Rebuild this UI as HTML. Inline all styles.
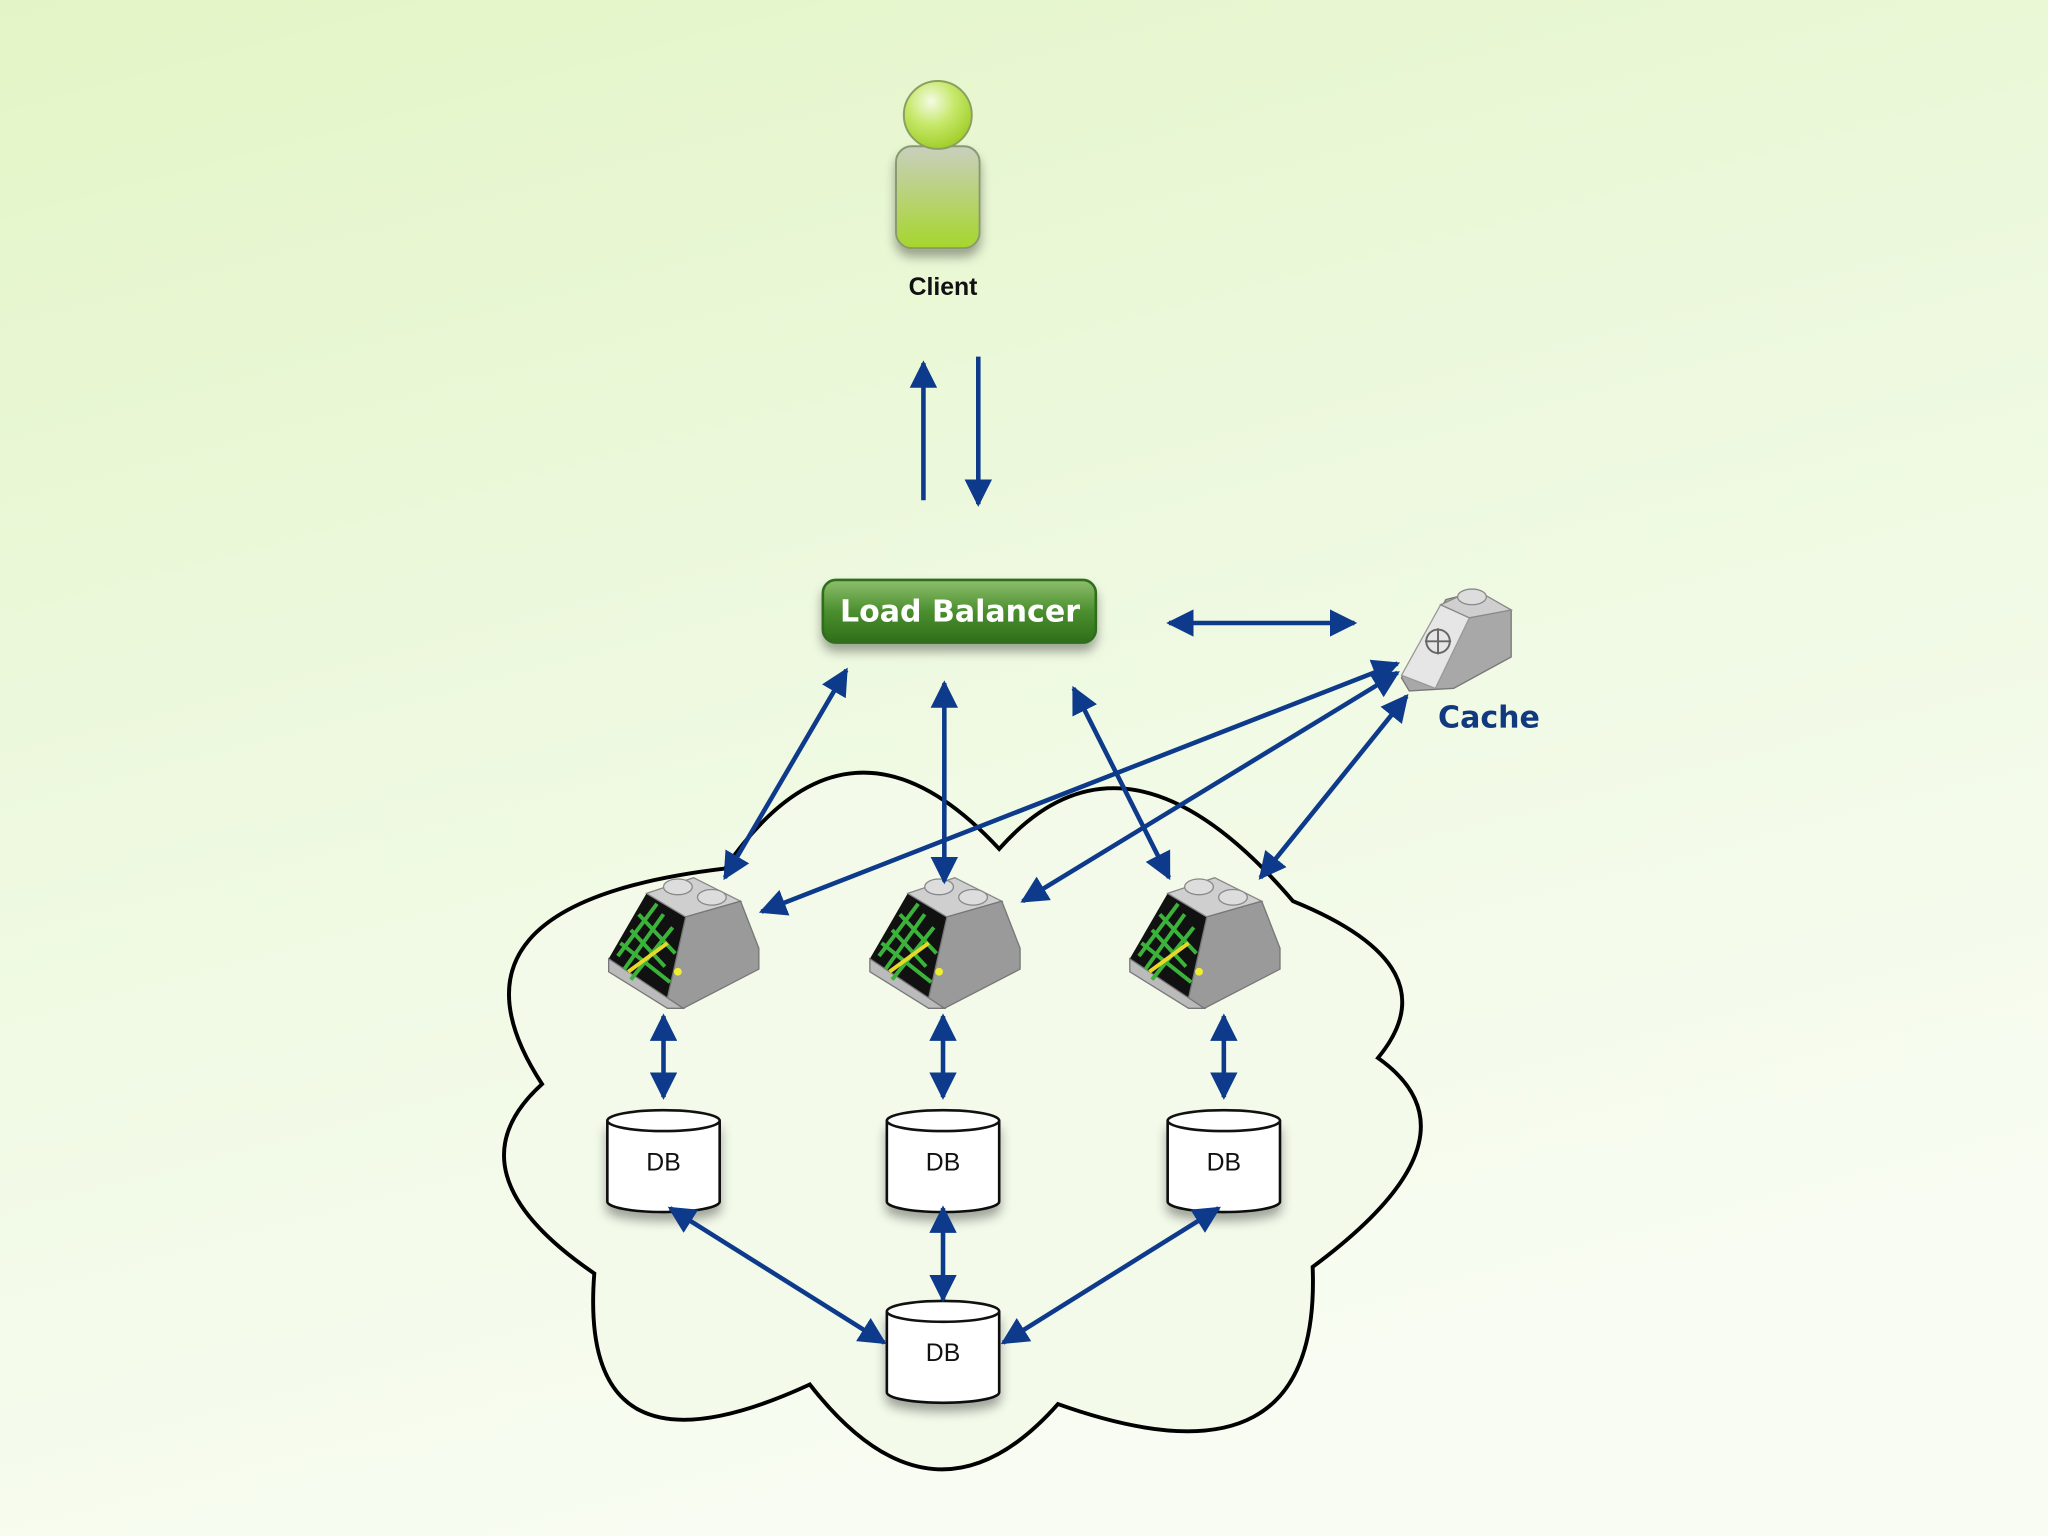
<!DOCTYPE html>
<html><head><meta charset="utf-8"><style>
html,body{margin:0;padding:0;width:2048px;height:1536px;overflow:hidden}
svg{display:block}
</style></head><body>
<svg width="2048" height="1536" viewBox="0 0 1568 1176" xmlns="http://www.w3.org/2000/svg">
<defs>
<linearGradient id="bg" x1="0" y1="0" x2="0.35" y2="1">
<stop offset="0" stop-color="#e3f5c6"/><stop offset="0.5" stop-color="#eef9e0"/><stop offset="1" stop-color="#f8fcf2"/>
</linearGradient>
<linearGradient id="body" x1="0" y1="0" x2="0" y2="1">
<stop offset="0" stop-color="#c9cfbe"/><stop offset="1" stop-color="#a6d62c"/>
</linearGradient>
<radialGradient id="head" cx="0.4" cy="0.3" r="0.7">
<stop offset="0" stop-color="#f4fbe4"/><stop offset="0.5" stop-color="#c6e86a"/><stop offset="1" stop-color="#a2cf2a"/>
</radialGradient>
<linearGradient id="lb" x1="0" y1="0" x2="0" y2="1">
<stop offset="0" stop-color="#8fbf6e"/><stop offset="0.5" stop-color="#4b8f2e"/><stop offset="1" stop-color="#2f6e1a"/>
</linearGradient>
<filter id="sh" x="-30%" y="-30%" width="160%" height="170%"><feDropShadow dx="0" dy="6" stdDeviation="4" flood-color="#000" flood-opacity="0.35"/></filter>
<marker id="ah" viewBox="0 0 10 10" refX="9" refY="5" markerWidth="6" markerHeight="6" orient="auto-start-reverse" markerUnits="strokeWidth">
<path d="M0,0 L10,5 L0,10 z" fill="#0d3a8a"/></marker>
<g id="srv">
<polygon points="-57,12 -28,-38 2,-20 -12,42" fill="#111"/>
<polygon points="-28,-38 8,-50 44,-32 2,-20" fill="#cfcfcf" stroke="#888" stroke-width="1"/>
<polygon points="2,-20 44,-32 58,4 58,20 0,50 -12,42" fill="#9a9a9a" stroke="#777" stroke-width="1"/>
<polygon points="-57,12 -57,22 -12,50 0,50 -12,42" fill="#bbb" stroke="#777" stroke-width="1"/>
<path d="M-50,10 L-20,-30 M-45,20 L-15,-22 M-40,28 L-8,-12 M-48,0 L-10,30 M-40,-10 L-14,18 M-34,-22 L-6,8" stroke="#3bb33b" stroke-width="3"/>
<path d="M-42,22 L-12,0" stroke="#e8d82a" stroke-width="3"/>
<circle cx="-4" cy="22" r="3" fill="#ee3"/>
<ellipse cx="-4" cy="-43" rx="11" ry="6" fill="#ddd" stroke="#888"/>
<ellipse cx="22" cy="-35" rx="11" ry="6" fill="#ddd" stroke="#888"/>
</g>
<g id="db">
<path d="M-43,-32 L-43,30 A43,8 0 0 0 43,30 L43,-32" fill="#fff" stroke="#111" stroke-width="2" filter="url(#sh)"/>
<ellipse cx="0" cy="-32" rx="43" ry="8" fill="#fff" stroke="#111" stroke-width="2"/>
</g>
</defs>
<rect width="1568" height="1176" fill="url(#bg)"/>

<!-- cloud -->
<path d="M555,665 Q650,526 765,650 Q862,540 990,690 Q1113,740 1055,810 Q1140,870 1005,970 Q1012,1147 810,1075 Q715,1182 620,1060 Q442,1142 455,975 Q341,897 415,830 Q325,692 555,665 Z" fill="#f3faea" stroke="#000" stroke-width="3"/>

<!-- client -->
<rect x="686" y="112" width="64" height="78" rx="12" fill="url(#body)" stroke="#8a9a70" stroke-width="1.5" filter="url(#sh)"/>
<circle cx="718" cy="88" r="26" fill="url(#head)" stroke="#8aa060" stroke-width="1.5"/>
<text x="722" y="226" font-family="Liberation Sans, sans-serif" font-size="19" font-weight="bold" text-anchor="middle" fill="#111">Client</text>

<!-- load balancer -->
<rect x="630" y="444" width="209" height="48" rx="10" fill="url(#lb)" stroke="#2f6e1a" stroke-width="2" filter="url(#sh)"/>
<text x="735" y="476" font-family="DejaVu Sans, sans-serif" font-size="23" font-weight="bold" text-anchor="middle" fill="#fff">Load Balancer</text>

<!-- cache -->
<g transform="translate(1115,487)">
<polygon points="-42,32 -8,-28 16,-34 42,-20 42,16 -2,40 -36,42" fill="#a8a8a8" stroke="#777"/>
<polygon points="-42,30 -12,-24 10,-14 -16,40" fill="#e6e6e6" stroke="#999"/>
<polygon points="-12,-24 14,-36 42,-20 10,-14" fill="#cfcfcf" stroke="#888"/>
<ellipse cx="12" cy="-30" rx="11" ry="6" fill="#ddd" stroke="#888"/>
<circle cx="-14" cy="4" r="9" fill="none" stroke="#666" stroke-width="1.5"/>
<path d="M-24,4 H-4 M-14,-6 V14" stroke="#666" stroke-width="1.5"/>
</g>
<text x="1140" y="557" font-family="DejaVu Sans, sans-serif" font-size="23" font-weight="bold" text-anchor="middle" fill="#10397f">Cache</text>

<!-- servers -->
<use href="#srv" x="523" y="722"/>
<use href="#srv" x="723" y="722"/>
<use href="#srv" x="922" y="722"/>

<!-- DBs -->
<g font-family="Liberation Sans, sans-serif" font-size="19" text-anchor="middle" fill="#111">
<use href="#db" x="508" y="890"/><text x="508" y="896">DB</text>
<use href="#db" x="722" y="890"/><text x="722" y="896">DB</text>
<use href="#db" x="937" y="890"/><text x="937" y="896">DB</text>
<use href="#db" x="722" y="1036"/><text x="722" y="1042">DB</text>
</g>

<!-- arrows -->
<g stroke="#0d3a8a" stroke-width="3.5" fill="none">
<line x1="707" y1="383" x2="707" y2="278" marker-end="url(#ah)"/>
<line x1="749" y1="273" x2="749" y2="386" marker-end="url(#ah)"/>
<line x1="895" y1="477" x2="1037" y2="477" marker-start="url(#ah)" marker-end="url(#ah)"/>
<line x1="648" y1="513" x2="555" y2="672" marker-start="url(#ah)" marker-end="url(#ah)"/>
<line x1="723" y1="523" x2="723" y2="675" marker-start="url(#ah)" marker-end="url(#ah)"/>
<line x1="822" y1="527" x2="895" y2="672" marker-start="url(#ah)" marker-end="url(#ah)"/>
<line x1="1070" y1="508" x2="583" y2="698" marker-start="url(#ah)" marker-end="url(#ah)"/>
<line x1="1070" y1="515" x2="783" y2="690" marker-start="url(#ah)" marker-end="url(#ah)"/>
<line x1="1077" y1="533" x2="965" y2="672" marker-start="url(#ah)" marker-end="url(#ah)"/>
<line x1="508" y1="778" x2="508" y2="840" marker-start="url(#ah)" marker-end="url(#ah)"/>
<line x1="722" y1="778" x2="722" y2="840" marker-start="url(#ah)" marker-end="url(#ah)"/>
<line x1="937" y1="778" x2="937" y2="840" marker-start="url(#ah)" marker-end="url(#ah)"/>
<line x1="513" y1="925" x2="677" y2="1028" marker-start="url(#ah)" marker-end="url(#ah)"/>
<line x1="722" y1="925" x2="722" y2="995" marker-start="url(#ah)" marker-end="url(#ah)"/>
<line x1="933" y1="925" x2="768" y2="1028" marker-start="url(#ah)" marker-end="url(#ah)"/>
</g>
</svg>
</body></html>
